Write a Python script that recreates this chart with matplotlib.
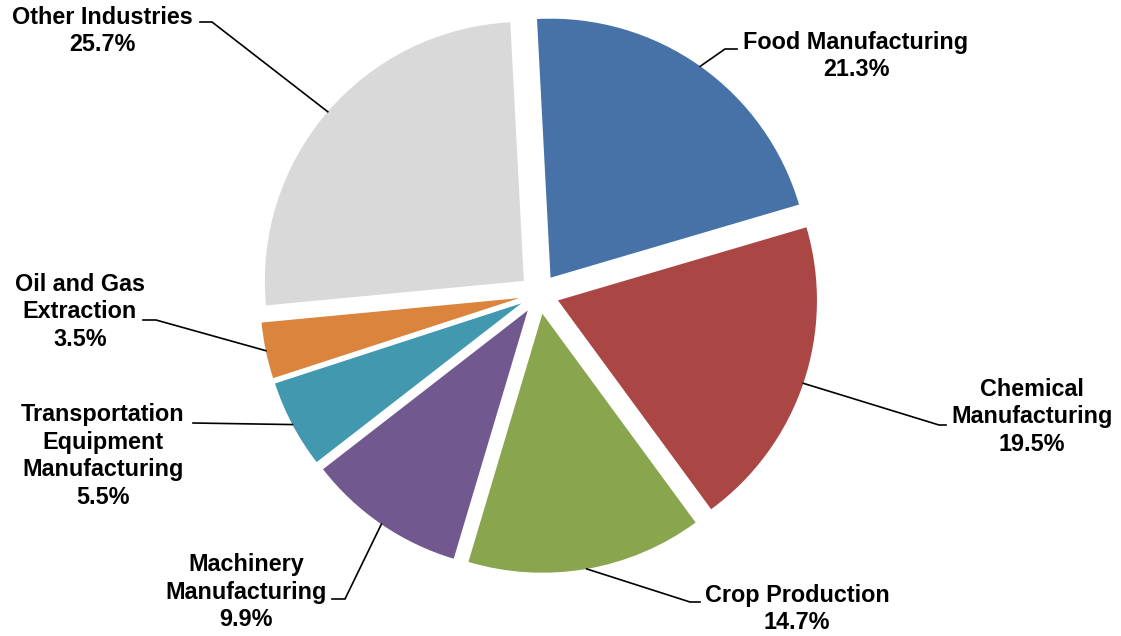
import numpy as np
import matplotlib
matplotlib.use("Agg")
import matplotlib.pyplot as plt

W, H = 1121, 636  # canvas size in pixels

industries = [
    "Food Manufacturing",
    "Chemical\nManufacturing",
    "Crop Production",
    "Machinery\nManufacturing",
    "Transportation\nEquipment\nManufacturing",
    "Oil and Gas\nExtraction",
    "Other Industries",
]
shares = [21.3, 19.5, 14.7, 9.9, 5.5, 3.5, 25.7]
colors = ["#4672A8", "#AA4643", "#89A54E", "#71588F", "#4198AF", "#DB843D", "#D9D9D9"]

# label layout (pixel coords, y measured from top): text centre, elbow, line end
label_pos = [(856, 56), (1032, 417), (797, 609), (246, 592), (103, 456), (80, 312), (102, 31)]
leader = [
    ((725, 49), (737, 49)),
    ((939, 425), (946, 425)),
    ((690, 602), (700, 602)),
    ((345, 599), (332, 599)),
    ((193, 423), (193, 423)),
    ((156, 320), (143, 320)),
    ((212, 22), (200, 22)),
]

fig = plt.figure(figsize=(W / 100, H / 100), dpi=100)
ax = fig.add_axes([0, 0, 1, 1])

wedges, _ = ax.pie(
    shares, colors=colors, startangle=93, counterclock=False,
    radius=259, center=(539, H - 294), explode=[20] * len(shares),
    wedgeprops=dict(linewidth=0),
)

for w, name, val, (tx, ty), ((ex, ey), (ox, oy)) in zip(wedges, industries, shares, label_pos, leader):
    # leader starts on the outer arc at the middle of the slice
    ang = np.deg2rad(0.5 * (w.theta1 + w.theta2))
    cx, cy = w.center
    ax_, ay_ = cx + w.r * np.cos(ang), cy + w.r * np.sin(ang)
    ax.plot([ax_, ex, ox], [ay_, H - ey, H - oy], color="black", lw=1.2, solid_joinstyle="miter")
    ax.text(tx, H - ty, f"{name}\n{val:.1f}%", ha="center", va="center",
            multialignment="center", fontsize=16.8, fontweight="bold",
            family="Liberation Sans", linespacing=1.25)

ax.set_xlim(0, W)
ax.set_ylim(0, H)
ax.set_aspect("equal")
ax.axis("off")

fig.savefig("out.png", dpi=100)
